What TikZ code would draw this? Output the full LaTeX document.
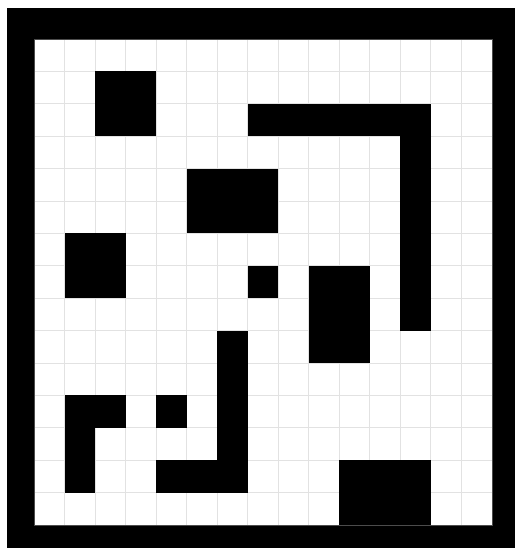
\documentclass[tikz,border=0pt]{standalone}
\usepackage{xcolor}
\usepackage{tikz}
\definecolor{gridgray}{RGB}{226,226,226}
\tikzset{
    wall/.style={fill=black, draw=black!80, line width=0.6pt},
    gridline/.style={gridgray, line width=0.8pt}
}

\begin{document}
\begin{tikzpicture}[x=30.53pt, y=-32.4pt]
    % fixed page size (the reference's margins)
    \useasboundingbox (-1.114,-1.204) rectangle (15.755,15.710);
    % outer wall
    \fill[black] (-0.884,-0.957) rectangle (15.755,15.710);
    % free area with grid
    \fill[white] (0,0) rectangle (15,15);
    \foreach \i in {1,...,14} {
        \draw[gridline] (\i,0) -- (\i,15);
        \draw[gridline] (0,\i) -- (15,\i);
    }
    \draw[black!70, line width=0.6pt] (0,0) rectangle (15,15);
    % obstacles (column, row) to (column, row)
    \foreach \a/\b/\c/\d in {2/1/4/3, 7/2/13/3, 12/2/13/9, 5/4/8/6, 1/6/3/8,
                             7/7/8/8, 9/7/11/10, 6/9/7/14, 4/13/7/14, 4/11/5/12,
                             1/11/3/12, 1/11/2/14, 10/13/13/15} {
        \fill[black] (\a,\b) rectangle (\c,\d);
    }
\end{tikzpicture}
\end{document}
